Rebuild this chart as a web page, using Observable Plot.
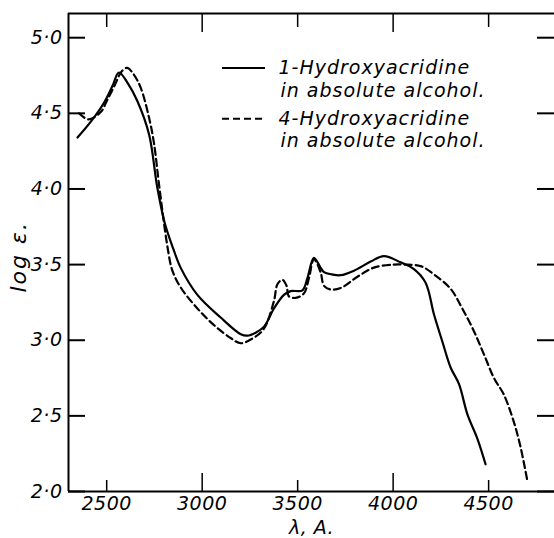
<!DOCTYPE html>
<html>
<head>
<meta charset="utf-8">
<script src="https://cdn.jsdelivr.net/npm/d3@7"></script>
<script src="https://cdn.jsdelivr.net/npm/@observablehq/plot@0.6"></script>
<style>
  html, body { margin: 0; padding: 0; background: #fff; }
  #chart { width: 554px; height: 538px; }
  #chart svg text { letter-spacing: 0.5px; }
  #chart svg g.legend-text text { letter-spacing: 1px; }
  #chart svg g.ylabel text { letter-spacing: 2px; }
</style>
</head>
<body>
<div id="chart"></div>
<script>
// 1-Hydroxyacridine in absolute alcohol (solid)
const solidWavelength = [2347, 2420, 2486, 2530, 2564, 2610, 2661, 2722, 2765, 2805, 2850, 2887, 2975, 3097, 3202, 3237, 3280, 3324, 3376, 3428, 3463, 3525, 3551, 3585, 3620, 3638, 3680, 3725, 3795, 3882, 3952, 4039, 4109, 4170, 4214, 4258, 4301, 4345, 4389, 4441, 4484];
const solidLogE = [4.34, 4.45, 4.57, 4.68, 4.77, 4.70, 4.58, 4.36, 4.01, 3.77, 3.60, 3.48, 3.30, 3.15, 3.04, 3.03, 3.05, 3.09, 3.21, 3.30, 3.325, 3.33, 3.41, 3.545, 3.48, 3.45, 3.435, 3.43, 3.46, 3.52, 3.556, 3.515, 3.47, 3.38, 3.17, 2.99, 2.82, 2.71, 2.51, 2.35, 2.18];

// 4-Hydroxyacridine in absolute alcohol (dashed)
const dashedWavelength = [2355, 2405, 2470, 2500, 2540, 2580, 2608, 2640, 2678, 2722, 2748, 2774, 2818, 2844, 2887, 2975, 3062, 3149, 3202, 3254, 3320, 3376, 3394, 3420, 3442, 3454, 3490, 3533, 3559, 3585, 3620, 3638, 3673, 3725, 3813, 3900, 4004, 4057, 4144, 4214, 4301, 4362, 4423, 4476, 4528, 4580, 4632, 4668, 4703];
const dashedLogE = [4.50, 4.46, 4.51, 4.58, 4.68, 4.78, 4.80, 4.76, 4.67, 4.47, 4.30, 4.03, 3.62, 3.46, 3.35, 3.21, 3.10, 3.015, 2.98, 3.005, 3.07, 3.26, 3.37, 3.40, 3.36, 3.29, 3.28, 3.31, 3.41, 3.535, 3.45, 3.36, 3.335, 3.345, 3.42, 3.48, 3.50, 3.50, 3.49, 3.435, 3.34, 3.21, 3.06, 2.905, 2.75, 2.64, 2.46, 2.29, 2.07];

const xTicks = [2500, 3000, 3500, 4000, 4500];
const xMajorTicks = [3000, 4000];
const xMinorTicks = [2500, 3500, 4500];
const yTicks = [2.0, 2.5, 3.0, 3.5, 4.0, 4.5, 5.0];
const yTickLabels = ["2·0", "2·5", "3·0", "3·5", "4·0", "4·5", "5·0"];

const legendNames = ["1-Hydroxyacridine", "4-Hydroxyacridine"];
const legendSub = ["in absolute alcohol.", "in absolute alcohol."];
const legendY = [4.80, 4.465];
const legendSubY = [4.645, 4.315];

const xLabel = "λ, A.";
const yLabel = "log ε.";

const xDomain = [2300, 4845];
const yDomain = [2.0, 5.16];

const solid = solidWavelength.map((x, i) => ({x, y: solidLogE[i]}));
const dashed = dashedWavelength.map((x, i) => ({x, y: dashedLogE[i]}));
const yLabelOf = new Map(yTicks.map((t, i) => [t, yTickLabels[i]]));

const W = 554, H = 538;
const mL = 68, mR = 0, mT = 13, mB = 47;
const fw = W - mL - mR, fh = H - mT - mB;

const chart = Plot.plot({
  width: W,
  height: H,
  marginLeft: mL,
  marginRight: mR,
  marginTop: mT,
  marginBottom: mB,
  style: {fontFamily: "DejaVu Sans", fontStyle: "italic", fontSize: "19px", color: "#000", background: "#fff"},
  x: {domain: xDomain},
  y: {domain: yDomain},
  marks: [
    Plot.axisX({ticks: xTicks, tickSize: 0, tickPadding: 5, tickFormat: d => String(d), label: null}),
    Plot.axisY({ticks: yTicks, tickSize: 0, tickPadding: 6, tickFormat: d => yLabelOf.get(d), label: null}),
    Plot.text([xLabel], {frameAnchor: "bottom", dy: 42, fontSize: 19, text: d => d}),
    Plot.text([yLabel], {frameAnchor: "left", dx: -50, dy: 40, rotate: -90, fontSize: 22, text: d => d, className: "ylabel"}),
    // frame lines
    Plot.ruleX([xDomain[0]], {stroke: "#000", strokeWidth: 2}),
    Plot.ruleY([yDomain[0]], {stroke: "#000", strokeWidth: 2}),
    Plot.ruleY([yDomain[1]], {stroke: "#000", strokeWidth: 2}),
    // inward tick marks
    Plot.tickY(yTicks, {y: d => d, insetRight: fw - 17, stroke: "#000", strokeWidth: 2}),
    Plot.tickY(yTicks, {y: d => d, insetLeft: fw - 17, stroke: "#000", strokeWidth: 2}),
    Plot.tickX(xMajorTicks, {x: d => d, insetTop: fh - 18, stroke: "#000", strokeWidth: 1.5}),
    Plot.tickX(xMinorTicks, {x: d => d, insetTop: fh - 11, stroke: "#000", strokeWidth: 1.5}),
    Plot.tickX(xMajorTicks, {x: d => d, insetBottom: fh - 19, stroke: "#000", strokeWidth: 1.5}),
    Plot.tickX(xMinorTicks, {x: d => d, insetBottom: fh - 14, stroke: "#000", strokeWidth: 1.5}),
    // curves
    Plot.line(solid, {x: "x", y: "y", curve: "catmull-rom", stroke: "#000", strokeWidth: 2.2}),
    Plot.line(dashed, {x: "x", y: "y", curve: "catmull-rom", stroke: "#000", strokeWidth: 2.2, strokeDasharray: "7,4"}),
    // legend
    Plot.tickY([legendY[0]], {y: d => d, insetLeft: 154, insetRight: fw - 197, stroke: "#000", strokeWidth: 2}),
    Plot.tickY([legendY[1]], {y: d => d, insetLeft: 154, insetRight: fw - 197, stroke: "#000", strokeWidth: 2, strokeDasharray: "7,4"}),
    Plot.text(legendNames, {x: xDomain[0], y: (d, i) => legendY[i], text: d => d, dx: 210, textAnchor: "start", fontSize: 19, className: "legend-text"}),
    Plot.text(legendSub, {x: xDomain[0], y: (d, i) => legendSubY[i], text: d => d, dx: 212, textAnchor: "start", fontSize: 19, className: "legend-text"})
  ]
});
document.getElementById("chart").appendChild(chart);
</script>
</body>
</html>
